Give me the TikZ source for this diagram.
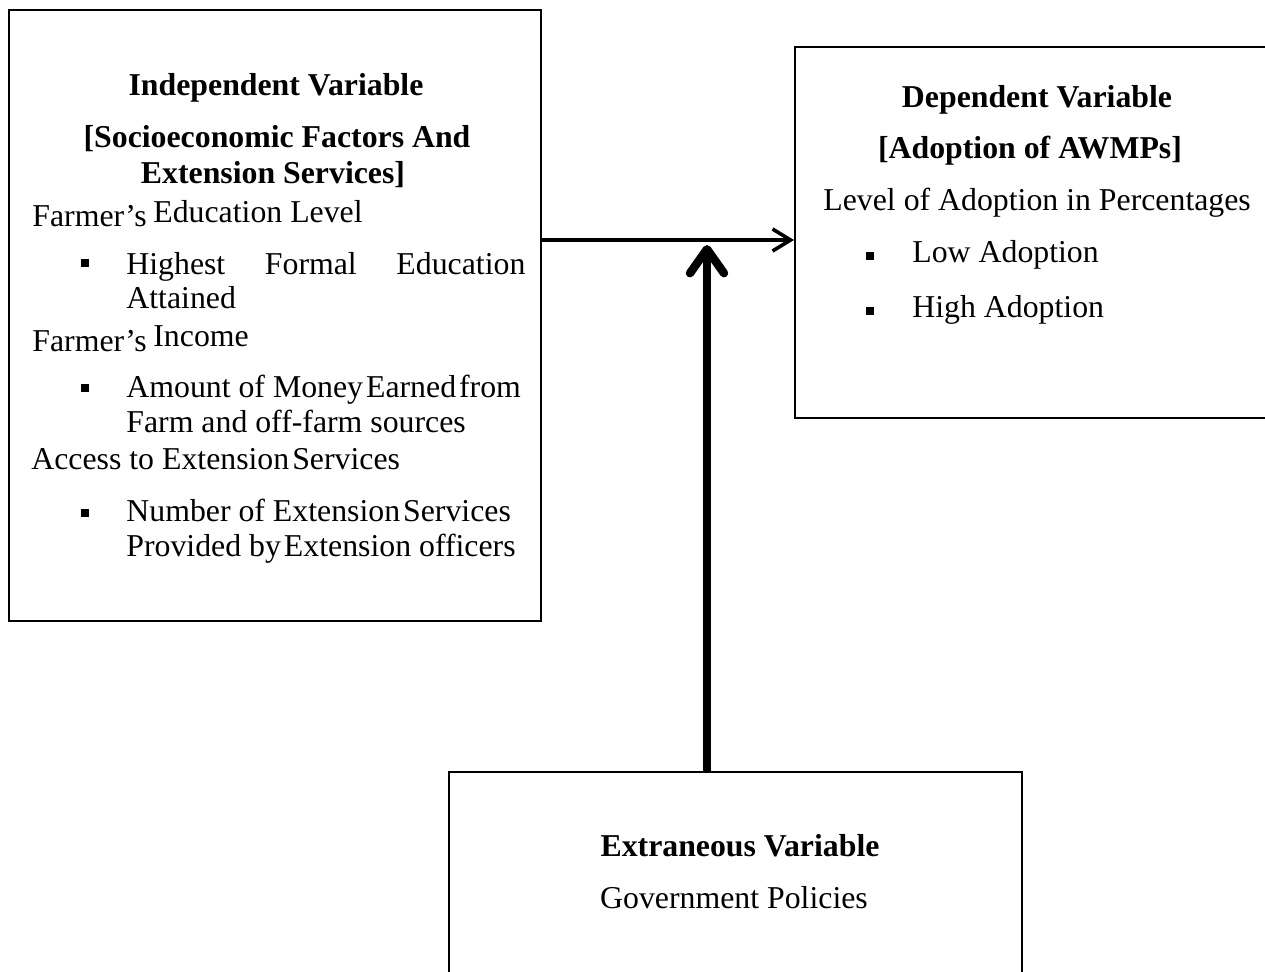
\documentclass[tikz,border=0pt]{standalone}
\usepackage{fontspec}
\setmainfont{Liberation Serif}
\usetikzlibrary{arrows.meta}
\newcommand{\sg}{\hspace{1.5pt}}
\begin{document}
\begin{tikzpicture}[x=0.5pt,y=-0.5pt,
  box/.style={draw=black,line width=1pt,fill=none,inner sep=0pt},
  txt/.style={inner sep=0pt,anchor=base west,font=\fontsize{15.9}{19}\selectfont},
  ctxt/.style={inner sep=0pt,anchor=base,font=\fontsize{15.9}{19}\selectfont},
  btxt/.style={inner sep=0pt,anchor=base,font=\fontsize{15.9}{19}\selectfont\bfseries},
  bul/.style={fill=black,draw=none,inner sep=0pt,minimum size=3.6pt,rectangle},
  thin arrow/.style={line width=1.8pt,-{Straight Barb[length=9pt,width=11pt,line width=1.8pt]}},
  thick arrow/.style={line width=4.2pt,-{Straight Barb[length=12pt,width=17pt,round,line width=4.2pt]}}
]
\clip (0,0) rectangle (1265,971);
\fill[white] (0,0) rectangle (1265,971);

% boxes
\node[box,minimum width=266pt,minimum height=305.5pt] (L) at (275,315.5) {};
\node[box,minimum width=240pt,minimum height=185.5pt] (R) at (1035,232.75) {};
\node[box,minimum width=286.5pt,minimum height=106.5pt] (E) at (735.5,878.5) {};

% left box text
\node[btxt] (l1) at (276,95) {Independent Variable};
\node[btxt] (l2) at (277,147) {[Socioeconomic Factors And};
\node[btxt] (l3) at (273,183) {Extension Services]};
\node[txt] (l4a) at (32,226) {Farmer’s};
\node[txt] (l4b) at (153,222) {Education Level};
\node[bul] (b1) at (85,263) {};
\node[txt] (l5) at (126,274) {\makebox[199.5pt][s]{Highest\hfill Formal\hfill Education}};
\node[txt] (l6) at (126,308) {Attained};
\node[txt] (l7a) at (32,351) {Farmer’s};
\node[txt] (l7b) at (153,346) {Income};
\node[bul] (b2) at (85,388) {};
\node[txt] (l8) at (126,397) {Amount of Money\sg Earned\sg from};
\node[txt] (l9) at (126,432) {Farm and off-farm sources};
\node[txt] (l10) at (31,469) {Access to Extension\sg Services};
\node[bul] (b3) at (85,513) {};
\node[txt] (l11) at (126,521) {Number of Extension\sg Services};
\node[txt] (l12) at (126,556) {Provided by\sg Extension officers};

% right box text
\node[btxt] (r1) at (1037,107) {Dependent Variable};
\node[btxt] (r2) at (1030,158) {[Adoption of AWMPs]};
\node[txt] (r3) at (823,210) {Level of Adoption in Percentages};
\node[bul] (b4) at (870,256) {};
\node[txt] (r4) at (912,262) {Low Adoption};
\node[bul] (b5) at (870,311) {};
\node[txt] (r5) at (912,317) {High Adoption};

% bottom box text
\node[btxt] (e1) at (740,856) {Extraneous Variable};
\node[ctxt] (e2) at (734,908) {Government Policies};

% connectors
\coordinate (hy) at (0,240);
\coordinate (vx) at (707,0);
\coordinate (vtip) at (707,245);
\draw[thin arrow] (L.east |- hy) -- (R.west |- hy);
\draw[thick arrow] (E.north -| vx) -- (vtip);
\end{tikzpicture}
\end{document}
